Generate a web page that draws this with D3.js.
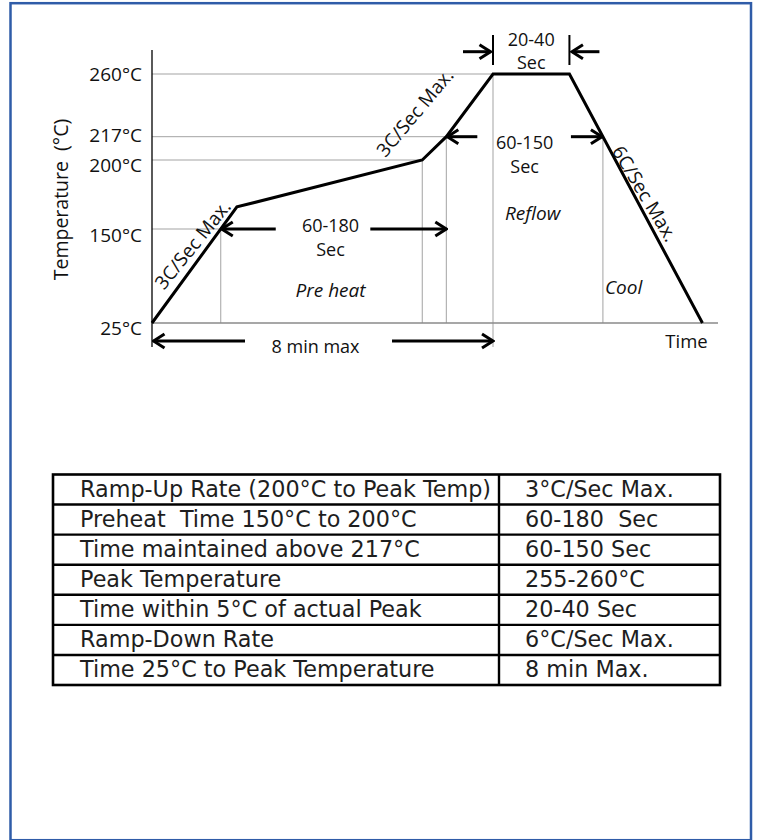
<!DOCTYPE html>
<html><head><meta charset="utf-8">
<script src="https://cdn.jsdelivr.net/npm/d3@7"></script>
<style>body{margin:0;background:#fff}svg{display:block}</style>
</head><body>
<svg id="c" width="758" height="840"></svg>
<script>
// ---- data ----
const profileTime = [0, 60, 191, 208, 241, 295, 389];      // seconds (schematic)
const profileTemp = [25, 166, 200, 217, 260, 260, 25];     // °C
const tempTicks = [25, 150, 200, 217, 260];
const tableParams = [
  "Ramp-Up Rate (200°C to Peak Temp)",
  "Preheat  Time 150°C to 200°C",
  "Time maintained above 217°C",
  "Peak Temperature",
  "Time within 5°C of actual Peak",
  "Ramp-Down Rate",
  "Time 25°C to Peak Temperature"
];
const tableValues = [
  "3°C/Sec Max.",
  "60-180  Sec",
  "60-150 Sec",
  "255-260°C",
  "20-40 Sec",
  "6°C/Sec Max.",
  "8 min Max."
];

// ---- setup ----
const svg = d3.select("#c");
const FONT = "'Open Sans', 'Noto Sans', sans-serif";
const x = d3.scaleLinear().domain([0, 400]).range([152, 718]);
// schematic (non-uniform) temperature axis
const y = d3.scaleLinear().domain(tempTicks).range([323, 229, 160, 136.7, 74]);

const pts = profileTime.map((t, i) => [x(t), y(profileTemp[i])]);
function crossX(temp, from) {
  const py = y(temp);
  for (let i = from; i < pts.length - 1; i++) {
    const [x0, y0] = pts[i], [x1, y1] = pts[i + 1];
    if (y0 !== y1 && (y0 - py) * (y1 - py) <= 0) return x0 + (py - y0) / (y1 - y0) * (x1 - x0);
  }
}
const x150 = crossX(150, 0);
const x200 = pts[2][0];
const x217u = crossX(217, 0);
const xPk = pts[4][0], xPkEnd = pts[5][0];
const x217d = crossX(217, 5);
const x0 = x(0), y25 = y(25);

// frame
svg.append("rect").attr("x", 10.5).attr("y", 3.2).attr("width", 740.5).attr("height", 837)
  .attr("fill", "none").attr("stroke", "#2f5ca8").attr("stroke-width", 2.5);

// arrow marker
const defs = svg.append("defs");
defs.append("marker").attr("id", "ah").attr("viewBox", "-13 -9 15 18")
  .attr("refX", 0).attr("refY", 0).attr("markerWidth", 15).attr("markerHeight", 18)
  .attr("markerUnits", "userSpaceOnUse").attr("orient", "auto")
  .append("path").attr("d", "M-11,-7L0,0L-11,7").attr("fill", "none")
  .attr("stroke", "#000").attr("stroke-width", 3).attr("stroke-linejoin", "miter");

// grid
const grid = svg.append("g").attr("stroke", "#a3a3a3").attr("stroke-width", 1).attr("fill", "none");
[[150, x150], [200, x200], [217, x217u], [260, xPk]].forEach(([t, xe]) => {
  grid.append("line").attr("x1", x0).attr("x2", xe).attr("y1", y(t)).attr("y2", y(t));
});
[[x150, 150], [x200, 200], [x217u, 217], [x217d, 217]].forEach(([xv, t]) => {
  grid.append("line").attr("x1", xv).attr("x2", xv).attr("y1", y(t)).attr("y2", y25);
});
grid.append("line").attr("x1", xPk).attr("x2", xPk).attr("y1", y(260)).attr("y2", y25 + 24);

// baseline (time axis)
svg.append("line").attr("x1", x0).attr("x2", x(400)).attr("y1", y25).attr("y2", y25)
  .attr("stroke", "#8a8a8a").attr("stroke-width", 1.6);
// y axis line
svg.append("line").attr("x1", x0).attr("x2", x0).attr("y1", y(260) - 24).attr("y2", y25 + 24)
  .attr("stroke", "#000").attr("stroke-width", 1.3);

// y ticks (label offsets follow the reference's placement)
const tickDy = { 25: "0.58em", 150: "0.66em", 200: "0.62em", 217: "0.26em", 260: "0.32em" };
const ya = svg.append("g").attr("transform", `translate(${x0},0)`)
  .call(d3.axisLeft(y).tickValues(tempTicks).tickSize(0).tickPadding(10).tickFormat(d => d + "°C"));
ya.select(".domain").remove();
ya.selectAll("text").attr("font-family", FONT).attr("font-size", 19).attr("font-weight", 500)
  .attr("fill", "#111").attr("dy", d => tickDy[d]);

// y title
svg.append("text").attr("transform", "translate(68,199.5) rotate(-90)")
  .attr("text-anchor", "middle").attr("font-family", FONT).attr("font-size", 19.5).attr("font-weight", 500)
  .attr("fill", "#111").style("white-space", "pre").text("Temperature  (°C)");

// profile
svg.append("path").datum(pts).attr("d", d3.line()).attr("fill", "none")
  .attr("stroke", "#000").attr("stroke-width", 3).attr("stroke-linejoin", "miter");

// helpers
function arrow(xt, yt, xh, yh) {
  svg.append("line").attr("x1", xt).attr("y1", yt).attr("x2", xh).attr("y2", yh)
    .attr("stroke", "#000").attr("stroke-width", 3).attr("marker-end", "url(#ah)");
}
function label(txt, xx, yy, opt = {}) {
  const t = svg.append("text").attr("x", xx).attr("y", yy)
    .attr("text-anchor", opt.anchor || "middle").attr("font-family", FONT)
    .attr("font-size", opt.size || 18).attr("font-weight", 500).attr("fill", "#111")
    .style("white-space", "pre").text(txt);
  if (opt.italic) t.attr("font-style", "italic");
  if (opt.rotate !== undefined) {
    t.attr("x", 0).attr("y", 0).attr("dominant-baseline", "central")
      .attr("transform", `translate(${xx},${yy}) rotate(${opt.rotate})`);
  }
  return t;
}

// preheat span 60-180
const mPre = (x150 + x217u) / 2 - 3;
label("60-180", mPre, y(150) + 2.5);
label("Sec", mPre, y(150) + 27);
arrow(x150 + 55, y(150), x150 + 1, y(150));
arrow(x217u - 76, y(150), x217u, y(150));
label("Pre heat", mPre, y25 - 26, { italic: true, size: 19 });

// time above 217: 60-150
const m217 = (x217u + x217d) / 2;
label("60-150", m217, y(217) + 12.5);
label("Sec", m217, y(217) + 36.5);
arrow(x217u + 31, y(217), x217u + 1, y(217));
arrow(x217d - 32, y(217), x217d - 1, y(217));
label("Reflow", m217 + 8, y(217) + 83, { italic: true, size: 19 });
label("Cool", x217d + 2, y25 - 29, { italic: true, size: 19, anchor: "start" });

// peak 20-40
const mPk = (xPk + xPkEnd) / 2;
label("20-40", mPk, y(260) - 28);
label("Sec", mPk, y(260) - 5);
[xPk, xPkEnd].forEach(xv => svg.append("line").attr("x1", xv).attr("x2", xv)
  .attr("y1", y(260) - 39).attr("y2", y(260) - 9).attr("stroke", "#000").attr("stroke-width", 2));
arrow(xPk - 30, y(260) - 22.3, xPk - 2.5, y(260) - 22.3);
arrow(xPkEnd + 30, y(260) - 22.3, xPkEnd + 2.5, y(260) - 22.3);

// 8 min max
label("8 min max", (x0 + xPk) / 2 - 7, y25 + 29.7);
arrow(x0 + 93, y25 + 18, x0 + 1.5, y25 + 18);
arrow(xPk - 101, y25 + 18, xPk, y25 + 18);

// Time
label("Time", x(400) - 31.5, y25 + 25, { size: 18.5 });

// slope labels
label("3C/Sec Max.", 192.5, 244.5, { size: 19, rotate: -51 });
label("3C/Sec Max.", 414.7, 112.5, { size: 19, rotate: -50 });
label("6C/Sec Max.", 645, 193.5, { size: 19, rotate: 59 });

// ---- table ----
const rows = d3.scaleBand().domain(d3.range(tableParams.length)).range([474.5, 685]);
const tL = 53, tM = 499, tR = 720;
const tg = svg.append("g");
tg.append("rect").attr("x", tL).attr("y", rows.range()[0]).attr("width", tR - tL)
  .attr("height", rows.range()[1] - rows.range()[0]).attr("fill", "none")
  .attr("stroke", "#000").attr("stroke-width", 2.6);
tg.append("line").attr("x1", tM).attr("x2", tM).attr("y1", rows.range()[0]).attr("y2", rows.range()[1])
  .attr("stroke", "#000").attr("stroke-width", 2.4);
tg.selectAll(".rl").data(d3.range(1, tableParams.length)).join("line")
  .attr("x1", tL).attr("x2", tR).attr("y1", d => rows(d)).attr("y2", d => rows(d))
  .attr("stroke", "#000").attr("stroke-width", 2.4);
const TF = "'DejaVu Sans', Verdana, sans-serif";
tg.selectAll(".p").data(tableParams).join("text")
  .attr("x", tL + 27).attr("y", (d, i) => rows(i) + rows.bandwidth() - 8)
  .attr("font-family", TF).attr("font-size", 22.3).attr("fill", "#1e1e1e")
  .style("white-space", "pre").text(d => d);
tg.selectAll(".v").data(tableValues).join("text")
  .attr("x", tM + 26).attr("y", (d, i) => rows(i) + rows.bandwidth() - 8)
  .attr("font-family", TF).attr("font-size", 22.3).attr("fill", "#1e1e1e")
  .style("white-space", "pre").text(d => d);
</script>
</body></html>
